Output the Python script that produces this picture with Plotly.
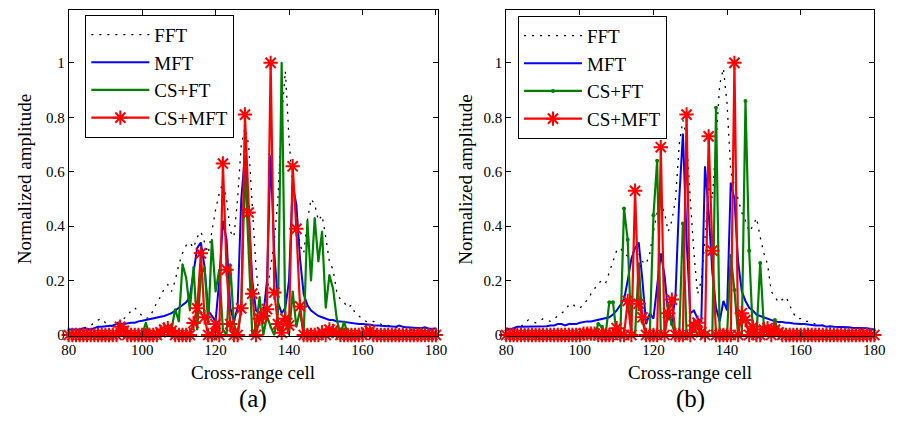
import plotly.graph_objects as go

cells = list(range(80, 181))

# ---------------- (a) ----------------
fft_a = [0.01, 0.012, 0.015, 0.02, 0.025, 0.03, 0.035, 0.045, 0.055, 0.06,
         0.045, 0.035, 0.03, 0.04, 0.055, 0.06, 0.07, 0.09, 0.1, 0.085,
         0.07, 0.06, 0.065, 0.09, 0.12, 0.14, 0.17, 0.185, 0.16, 0.2,
         0.26, 0.3, 0.33, 0.34, 0.32, 0.36, 0.38, 0.34, 0.3, 0.38,
         0.46, 0.52, 0.56, 0.5, 0.38, 0.36, 0.5, 0.7, 0.76, 0.7,
         0.45, 0.25, 0.12, 0.1, 0.15, 0.25, 0.35, 0.5, 0.8, 0.97,
         0.72, 0.55, 0.45, 0.33, 0.3, 0.42, 0.5, 0.48, 0.42, 0.44,
         0.36, 0.27, 0.24, 0.16, 0.13, 0.12, 0.1, 0.11, 0.08, 0.07,
         0.06, 0.05, 0.045, 0.05, 0.045, 0.04, 0.035, 0.035, 0.03, 0.03,
         0.025, 0.03, 0.025, 0.02, 0.02, 0.02, 0.015, 0.015, 0.015, 0.012,
         0.01]
mft_a = [0.02, 0.02, 0.022, 0.02, 0.025, 0.023, 0.02, 0.025, 0.03, 0.03,
         0.032, 0.035, 0.035, 0.04, 0.042, 0.04, 0.043, 0.045, 0.045, 0.05,
         0.052, 0.055, 0.058, 0.06, 0.062, 0.065, 0.07, 0.075, 0.08, 0.09,
         0.1, 0.11, 0.12, 0.14, 0.24, 0.32, 0.34, 0.25, 0.09, 0.07,
         0.05, 0.2, 0.42, 0.35, 0.1, 0.05, 0.1, 0.5, 0.66, 0.45,
         0.2, 0.09, 0.08, 0.07, 0.2, 0.66, 0.3, 0.12, 0.08, 0.1,
         0.2, 0.55, 0.48, 0.28, 0.15, 0.11, 0.09, 0.08, 0.07, 0.065,
         0.06, 0.055, 0.055, 0.05, 0.05, 0.048, 0.045, 0.045, 0.043, 0.04,
         0.04, 0.04, 0.038, 0.036, 0.035, 0.034, 0.033, 0.032, 0.03, 0.03,
         0.035, 0.03, 0.028, 0.028, 0.027, 0.026, 0.025, 0.028, 0.024, 0.022,
         0.025]
csft_a = [0, 0, 0, 0, 0, 0, 0, 0, 0, 0,
          0, 0, 0, 0, 0, 0, 0, 0, 0, 0,
          0, 0.045, 0, 0, 0, 0, 0, 0, 0.02, 0.095,
          0.05, 0.26, 0.21, 0.09, 0.25, 0.02, 0.22, 0.25, 0.04, 0.35,
          0.16, 0.24, 0.02, 0.0, 0.26, 0.04, 0.0, 0.1, 0.62, 0.3,
          0.0, 0.03, 0.14, 0.0, 0.07, 0.03, 0.0, 0.08, 1.0, 0.05,
          0.0, 0.16, 0.03, 0.09, 0.0, 0.42, 0.2, 0.43, 0.27, 0.38,
          0.1, 0.22, 0.17, 0.06, 0.0, 0.05, 0, 0, 0, 0,
          0, 0, 0, 0, 0, 0, 0, 0, 0, 0,
          0, 0, 0, 0, 0, 0, 0.02, 0, 0, 0,
          0]
csmft_a = [0, 0, 0, 0, 0, 0, 0, 0, 0, 0,
           0, 0, 0, 0, 0.03, 0.015, 0, 0, 0, 0,
           0, 0, 0, 0, 0, 0.01, 0.02, 0.025, 0.015, 0,
           0, 0, 0, 0, 0.044, 0.098, 0.30, 0.065, 0, 0,
           0.04, 0, 0.63, 0.24, 0.04, 0, 0, 0.098, 0.81, 0.45,
           0.152, 0, 0.06, 0.07, 0.095, 1.0, 0.156, 0.04, 0.008, 0.06,
           0.035, 0.62, 0.39, 0.105, 0, 0, 0, 0, 0, 0.01,
           0, 0.02, 0.015, 0.008, 0, 0, 0, 0, 0, 0,
           0, 0.01, 0.015, 0, 0, 0, 0, 0, 0, 0,
           0, 0, 0, 0, 0, 0, 0, 0, 0, 0,
           0]

# ---------------- (b) ----------------
fft_b = [0.015, 0.02, 0.02, 0.025, 0.03, 0.045, 0.055, 0.05, 0.045, 0.05,
         0.06, 0.055, 0.05, 0.06, 0.07, 0.08, 0.09, 0.11, 0.115, 0.1,
         0.1, 0.11, 0.13, 0.15, 0.17, 0.19, 0.2, 0.19, 0.23, 0.27,
         0.31, 0.32, 0.3, 0.29, 0.3, 0.31, 0.3, 0.27, 0.26, 0.3,
         0.38, 0.45, 0.48, 0.45, 0.38, 0.42, 0.5, 0.7, 0.79, 0.72,
         0.5, 0.3, 0.15, 0.2, 0.35, 0.55, 0.5, 0.72, 0.92, 0.98,
         0.85, 0.6, 0.55, 0.5, 0.45, 0.42, 0.38, 0.4, 0.43, 0.36,
         0.3, 0.26, 0.16, 0.14, 0.12, 0.13, 0.14, 0.11, 0.08, 0.06,
         0.06, 0.05, 0.05, 0.045, 0.04, 0.04, 0.035, 0.035, 0.03, 0.03,
         0.03, 0.028, 0.028, 0.025, 0.025, 0.025, 0.022, 0.022, 0.02, 0.02,
         0.02]
mft_b = [0.025, 0.02, 0.025, 0.03, 0.03, 0.03, 0.03, 0.03, 0.03, 0.03,
         0.03, 0.032, 0.035, 0.035, 0.04, 0.04, 0.035, 0.04, 0.04, 0.04,
         0.045, 0.048, 0.05, 0.05, 0.053, 0.055, 0.058, 0.06, 0.065, 0.075,
         0.09, 0.11, 0.13, 0.2, 0.28, 0.32, 0.34, 0.2, 0.04, 0.08,
         0.06, 0.18, 0.3, 0.22, 0.08, 0.04, 0.15, 0.5, 0.74, 0.35,
         0.08, 0.09, 0.06, 0.05, 0.62, 0.45, 0.23, 0.1, 0.05, 0.125,
         0.09, 0.56, 0.5, 0.27, 0.16, 0.125, 0.1, 0.09, 0.075, 0.07,
         0.065, 0.06, 0.055, 0.05, 0.048, 0.048, 0.045, 0.045, 0.042, 0.04,
         0.04, 0.04, 0.038, 0.035, 0.035, 0.035, 0.035, 0.03, 0.032, 0.03,
         0.03, 0.028, 0.03, 0.028, 0.027, 0.027, 0.026, 0.025, 0.025, 0.022,
         0.02]
csft_b = [0, 0, 0, 0, 0, 0, 0, 0, 0, 0,
          0, 0, 0, 0, 0, 0, 0, 0, 0, 0,
          0, 0, 0, 0, 0, 0.04, 0.03, 0, 0.12, 0.12,
          0, 0, 0.465, 0.35, 0, 0, 0.26, 0.05, 0, 0,
          0.44, 0.64, 0, 0, 0.107, 0.04, 0, 0, 0.41, 0,
          0, 0.03, 0, 0, 0, 0, 0, 0.835, 0, 0,
          0, 0.29, 0.165, 0, 0, 0.86, 0.31, 0.01, 0, 0.265,
          0.03, 0, 0, 0.055, 0, 0, 0, 0, 0, 0,
          0, 0, 0, 0, 0, 0, 0, 0, 0, 0,
          0, 0, 0, 0, 0, 0, 0, 0, 0, 0,
          0]
csmft_b = [0, 0, 0, 0, 0, 0, 0, 0, 0, 0,
           0, 0, 0, 0, 0, 0, 0, 0, 0, 0,
           0, 0.005, 0.005, 0.005, 0.005, 0, 0, 0, 0, 0,
           0.025, 0, 0, 0.125, 0, 0.53, 0.115, 0.065, 0, 0,
           0, 0, 0.69, 0, 0.08, 0.13, 0, 0, 0, 0.81,
           0, 0.035, 0.045, 0.01, 0, 0.73, 0.31, 0, 0, 0,
           0, 0, 1.0, 0, 0.08, 0.055, 0, 0.03, 0, 0,
           0.02, 0.025, 0, 0.02, 0.01, 0, 0, 0, 0, 0,
           0, 0, 0, 0, 0, 0, 0, 0, 0, 0,
           0, 0, 0, 0, 0, 0, 0, 0, 0, 0,
           0]

names = ["FFT", "MFT", "CS+FT", "CS+MFT"]
y_ticks = [0, 0.2, 0.4, 0.6, 0.8, 1]
y_tick_text = ["0", "0.2", "0.4", "0.6", "0.8", "1"]
x_ticks = [80, 100, 120, 140, 160, 180]

FONT = "Liberation Serif"
W, H = 899, 423

fig = go.Figure()


def add_panel(fft, mft, csft, csmft, xa, ya, leg, green_markers):
    fig.add_trace(go.Scatter(x=cells, y=fft, name=names[0], mode="lines",
                             line=dict(color="black", width=1.3, dash="2px,6px"),
                             xaxis=xa, yaxis=ya, legend=leg))
    fig.add_trace(go.Scatter(x=cells, y=mft, name=names[1], mode="lines",
                             line=dict(color="#0000ff", width=2),
                             xaxis=xa, yaxis=ya, legend=leg))
    fig.add_trace(go.Scatter(x=cells, y=csft, name=names[2],
                             mode="lines+markers",
                             line=dict(color="#008000", width=2.2),
                             marker=dict(size=4 if green_markers else 2, color="#008000"),
                             xaxis=xa, yaxis=ya, legend=leg))
    fig.add_trace(go.Scatter(x=cells, y=csmft, name=names[3],
                             mode="lines+markers",
                             line=dict(color="#ff0000", width=2.2),
                             marker=dict(symbol="asterisk-open", size=12,
                                         color="#ff0000",
                                         line=dict(color="#ff0000", width=2)),
                             cliponaxis=False,
                             xaxis=xa, yaxis=ya, legend=leg))


add_panel(fft_a, mft_a, csft_a, csmft_a, "x", "y", "legend", False)
add_panel(fft_b, mft_b, csft_b, csmft_b, "x2", "y2", "legend2", True)

axis_common = dict(showline=True, linecolor="black", linewidth=1, mirror="ticks",
                   ticks="inside", ticklen=5, tickcolor="black", showgrid=False,
                   zeroline=False, tickfont=dict(family=FONT, size=15, color="black"))

ydom = [1 - 342 / H, 1 - 10 / H]
layout = dict(
    width=W, height=H, margin=dict(l=0, r=0, t=0, b=0),
    paper_bgcolor="white", plot_bgcolor="white",
    font=dict(family=FONT, color="black"),
    xaxis=dict(domain=[62 / W, 439 / W], range=[80, 180.5], tickvals=x_ticks,
               anchor="y", **axis_common),
    yaxis=dict(domain=ydom, range=[-0.002, 1.195], tickvals=y_ticks,
               ticktext=y_tick_text, anchor="x", **axis_common),
    xaxis2=dict(domain=[509 / W, 885 / W], range=[80, 180], tickvals=x_ticks,
                anchor="y2", **axis_common),
    yaxis2=dict(domain=ydom, range=[-0.002, 1.195], tickvals=y_ticks,
                ticktext=y_tick_text, anchor="x2", **axis_common),
    legend=dict(x=79 / W, y=1 - 15 / H, xanchor="left", yanchor="top",
                bordercolor="black", borderwidth=1, bgcolor="white",
                font=dict(family=FONT, size=19, color="black"), itemwidth=58),
    legend2=dict(x=521 / W, y=1 - 16 / H, xanchor="left", yanchor="top",
                 bordercolor="black", borderwidth=1, bgcolor="white",
                 font=dict(family=FONT, size=19, color="black"), itemwidth=58),
    showlegend=True,
)
fig.update_layout(**layout)

ann = []
for cx, lab in [((62 + 439) / 2, "(a)"), ((509 + 885) / 2, "(b)")]:
    ann.append(dict(x=cx / W, y=1 - 380 / H, xref="paper", yref="paper",
                    text="Cross-range cell", showarrow=False,
                    font=dict(family=FONT, size=19, color="black"),
                    xanchor="center", yanchor="middle"))
    ann.append(dict(x=cx / W, y=1 - 407 / H, xref="paper", yref="paper",
                    text=lab, showarrow=False,
                    font=dict(family=FONT, size=25, color="black"),
                    xanchor="center", yanchor="middle"))
for xx in [17, 467]:
    ann.append(dict(x=xx / W, y=1 - 183 / H, xref="paper", yref="paper",
                    text="Normalized amplitude", showarrow=False, textangle=-90,
                    font=dict(family=FONT, size=19, color="black"),
                    xanchor="center", yanchor="middle"))
fig.update_layout(annotations=ann)

fig.write_html("out.html")
